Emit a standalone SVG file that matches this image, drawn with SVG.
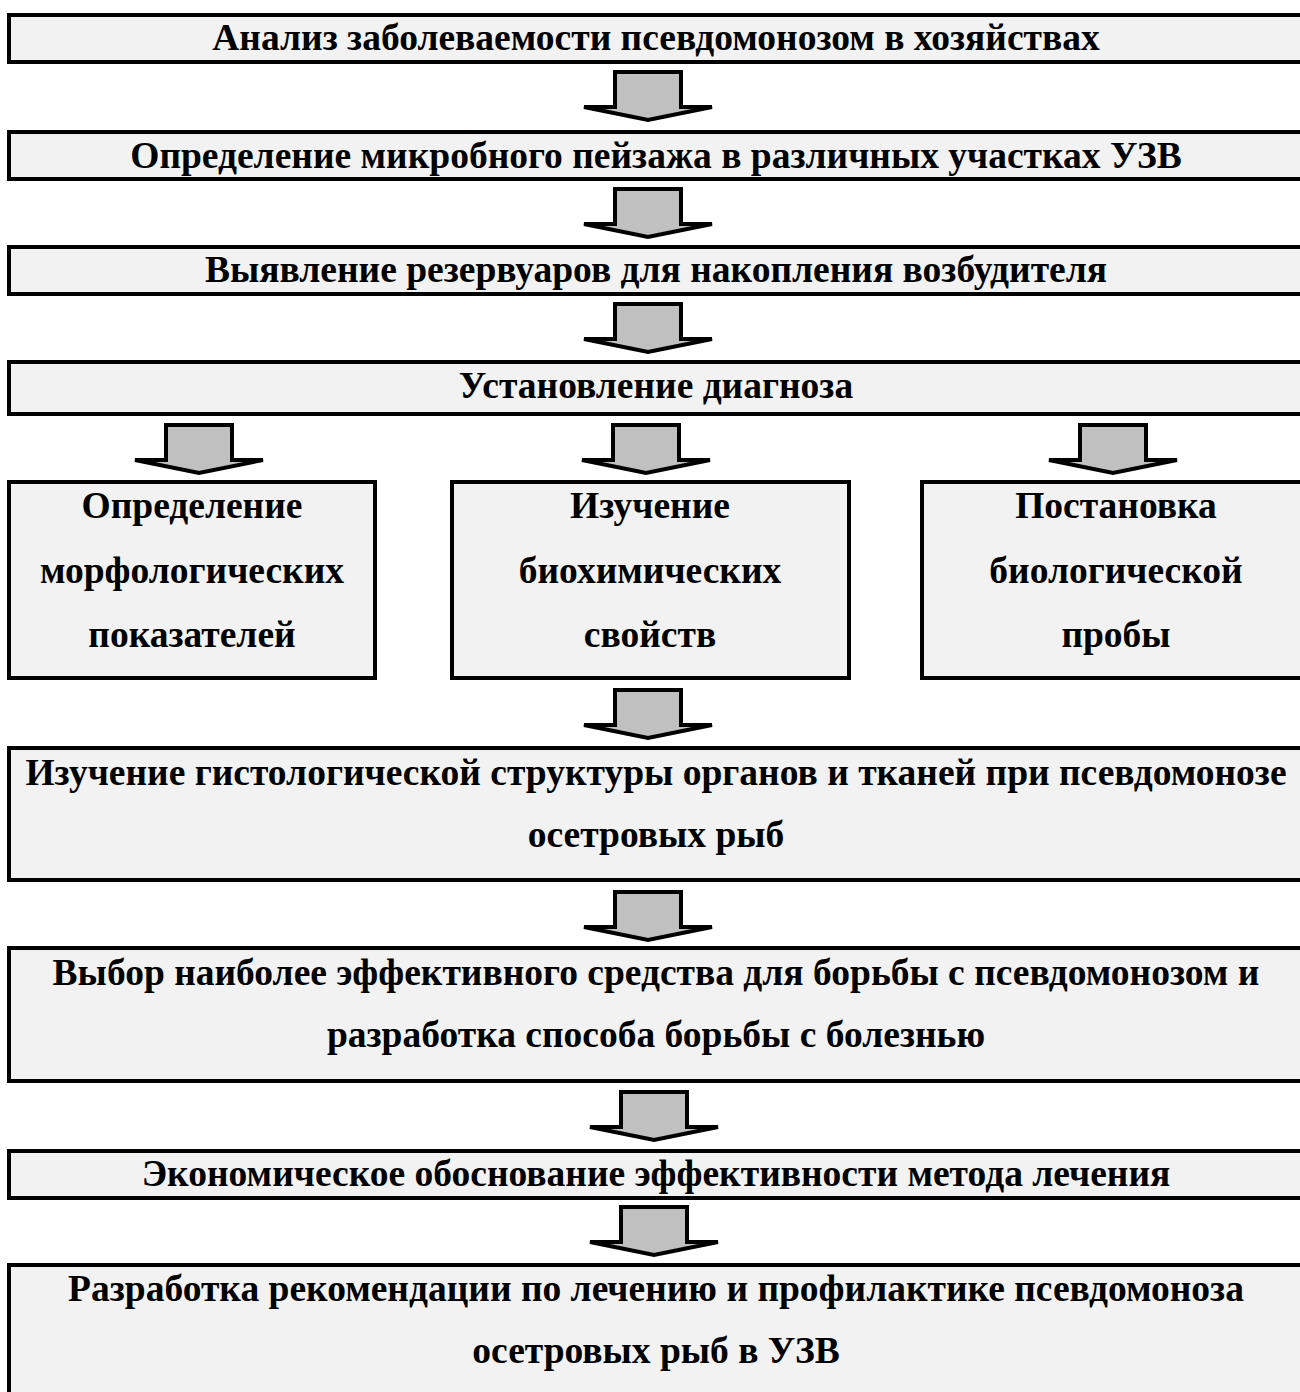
<svg xmlns="http://www.w3.org/2000/svg" xmlns:xlink="http://www.w3.org/1999/xlink" width="1300" height="1392" viewBox="0 0 1300 1392">
<style>
.box{fill:#f2f2f2;stroke:#000;stroke-width:4}
.t{font-family:"Liberation Serif","Times New Roman",serif;font-weight:bold;font-size:37.5px;fill:#000;text-anchor:middle}
.arr{fill:#c0c0c0;stroke:#000;stroke-width:4}
</style>
<defs>
<path id="arrow" d="M-33,2 H33 V37 H64 L0,50 L-64,37 H-33 Z"/>
</defs>
<rect width="1300" height="1392" fill="#fff"/>
<g id="connectors" class="arr">
<use xlink:href="#arrow" href="#arrow" x="648" y="70"/>
<use xlink:href="#arrow" href="#arrow" x="648" y="187"/>
<use xlink:href="#arrow" href="#arrow" x="648" y="302"/>
<use xlink:href="#arrow" href="#arrow" x="199" y="423"/>
<use xlink:href="#arrow" href="#arrow" x="646" y="423"/>
<use xlink:href="#arrow" href="#arrow" x="1113" y="423"/>
<use xlink:href="#arrow" href="#arrow" x="648" y="688"/>
<use xlink:href="#arrow" href="#arrow" x="648" y="890"/>
<use xlink:href="#arrow" href="#arrow" x="654" y="1090"/>
<use xlink:href="#arrow" href="#arrow" x="654" y="1205"/>
</g>
<g id="n1"><rect class="box" x="9" y="15" width="1296" height="47"/><text class="t" x="656" y="50">Анализ заболеваемости псевдомонозом в хозяйствах</text></g>
<g id="n2"><rect class="box" x="9" y="132" width="1296" height="47"/><text class="t" x="656" y="168">Определение микробного пейзажа в различных участках УЗВ</text></g>
<g id="n3"><rect class="box" x="9" y="247" width="1296" height="47"/><text class="t" x="656" y="282">Выявление резервуаров для накопления возбудителя</text></g>
<g id="n4"><rect class="box" x="9" y="362" width="1296" height="52"/><text class="t" x="656" y="398">Установление диагноза</text></g>
<g id="n5"><rect class="box" x="9" y="482" width="366" height="196"/><text class="t" x="192" y="518">Определение</text><text class="t" x="192" y="583">морфологических</text><text class="t" x="192" y="647">показателей</text></g>
<g id="n6"><rect class="box" x="452" y="482" width="397" height="196"/><text class="t" x="650" y="518">Изучение</text><text class="t" x="650" y="583">биохимических</text><text class="t" x="650" y="647">свойств</text></g>
<g id="n7"><rect class="box" x="922" y="482" width="388" height="196"/><text class="t" x="1116" y="518">Постановка</text><text class="t" x="1116" y="583">биологической</text><text class="t" x="1116" y="647">пробы</text></g>
<g id="n8"><rect class="box" x="9" y="748" width="1296" height="132"/><text class="t" x="656" y="785">Изучение гистологической структуры органов и тканей при псевдомонозе</text><text class="t" x="656" y="847">осетровых рыб</text></g>
<g id="n9"><rect class="box" x="9" y="948" width="1296" height="133"/><text class="t" x="656" y="985">Выбор наиболее эффективного средства для борьбы с псевдомонозом и</text><text class="t" x="656" y="1047">разработка способа борьбы с болезнью</text></g>
<g id="n10"><rect class="box" x="9" y="1151" width="1296" height="47"/><text class="t" x="656" y="1186">Экономическое обоснование эффективности метода лечения</text></g>
<g id="n11"><rect class="box" x="9" y="1265" width="1296" height="140"/><text class="t" x="656" y="1301">Разработка рекомендации по лечению и профилактике псевдомоноза</text><text class="t" x="656" y="1363">осетровых рыб в УЗВ</text></g>
</svg>
